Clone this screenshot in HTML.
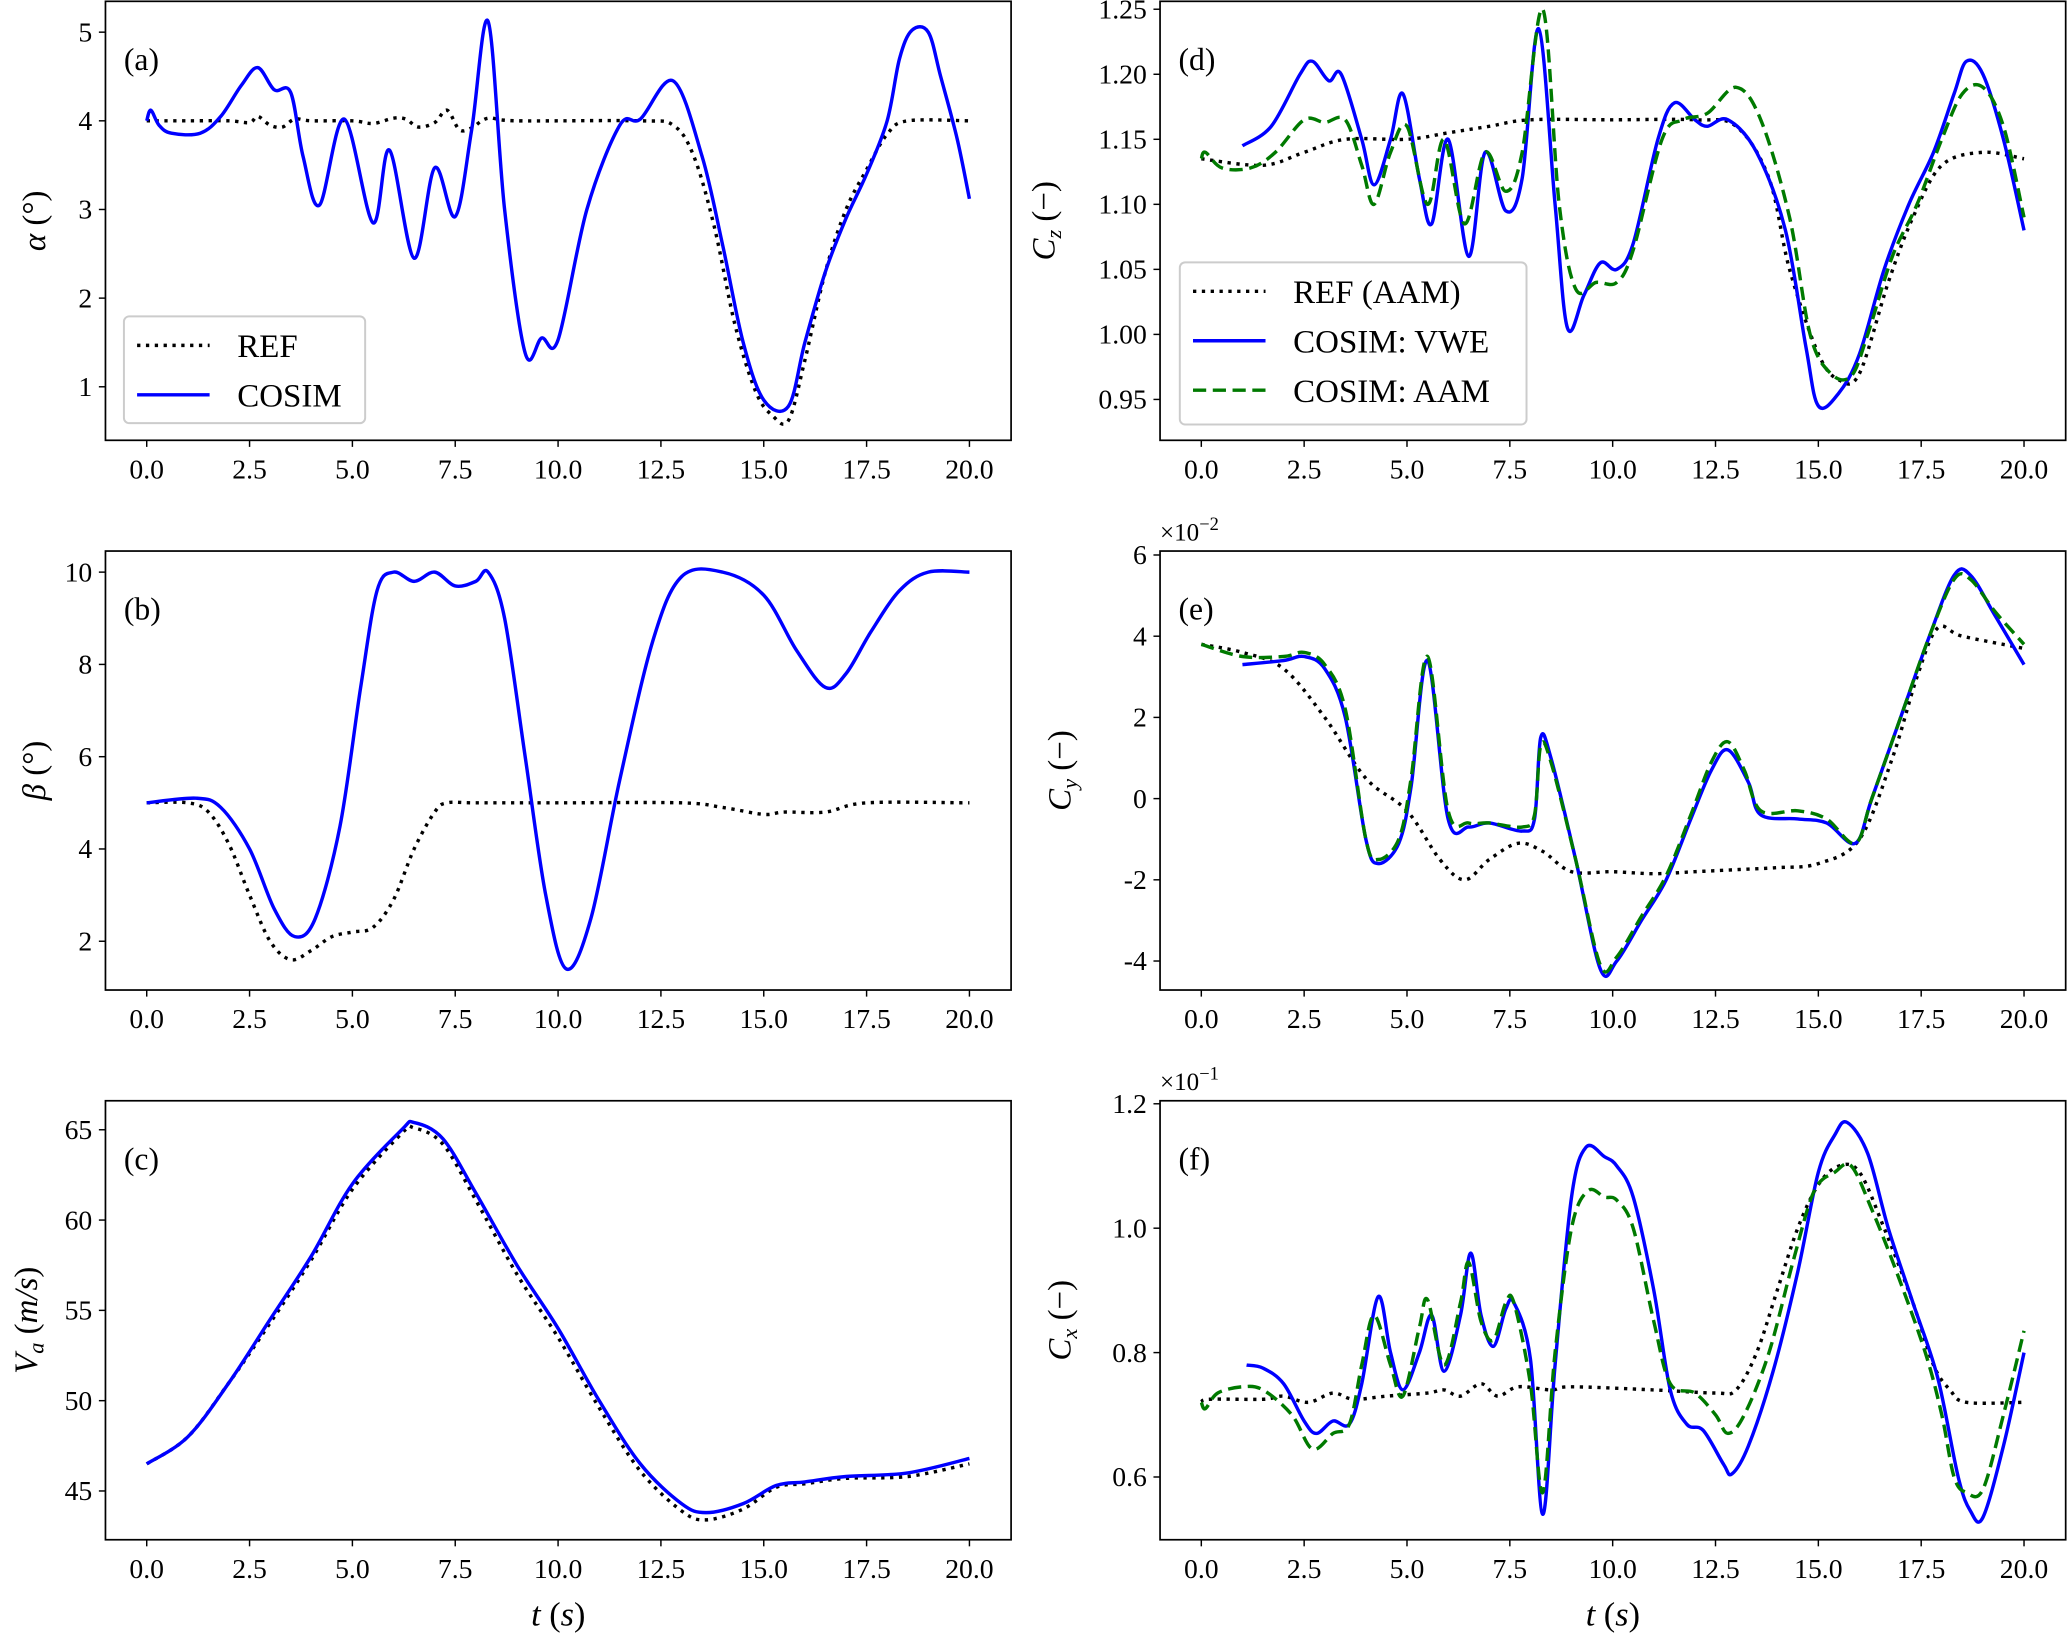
<!DOCTYPE html>
<html><head><meta charset="utf-8"><style>
html,body{margin:0;padding:0;background:#fff;}
svg{display:block;font-family:"Liberation Serif","DejaVu Serif",serif;}
</style></head><body>
<svg id="fig" xmlns="http://www.w3.org/2000/svg" width="2067" height="1634" viewBox="0 0 1568 1239.5" preserveAspectRatio="none"></svg>
<script>
// ---- Data (t in seconds) ----
const tTicks = [0,2.5,5,7.5,10,12.5,15,17.5,20];
const tTickLabels = ["0.0","2.5","5.0","7.5","10.0","12.5","15.0","17.5","20.0"];

const aRefT=[0,1,2,2.5,2.7,3,3.3,3.6,4,5,5.5,6,6.3,6.6,7,7.3,7.6,7.9,8.3,9,12,12.8,13.3,13.8,14.3,14.8,15.2,15.6,16,16.5,17,17.5,18,18.5,20];
const aRefV=[4,4,4,3.98,4.05,3.95,3.93,4.02,4,4,3.97,4.03,4.02,3.93,3.98,4.12,3.9,3.92,4.03,4,4,3.95,3.6,2.8,1.7,0.95,0.68,0.62,1.3,2.3,3.0,3.45,3.85,4,4];
const aCosT=[0,0.1,0.3,0.6,1.3,1.8,2.3,2.7,3.1,3.5,3.8,4.2,4.8,5.5,5.9,6.5,7.0,7.5,7.9,8.3,8.7,9.2,9.6,10,10.7,11.5,12,12.8,13.5,14,14.5,15,15.6,16,16.5,17,17.5,18,18.3,18.6,19,19.3,19.7,20];
const aCosV=[4.0,4.12,3.95,3.86,3.86,4.05,4.4,4.6,4.35,4.32,3.6,3.05,4.02,2.85,3.67,2.45,3.47,2.92,3.9,5.12,3.0,1.38,1.55,1.53,3.0,3.95,4.02,4.45,3.6,2.6,1.5,0.85,0.78,1.5,2.3,2.9,3.4,4.0,4.7,5.02,5.0,4.5,3.8,3.12];

const bRefT=[0,1,1.5,2,2.5,3,3.5,4,4.5,5,5.5,6,6.5,7,7.3,8,10,13,14,15,15.5,16.5,17.5,20];
const bRefV=[5,5,4.8,4.1,3.0,2.0,1.6,1.8,2.1,2.2,2.3,2.9,4.0,4.8,5.0,5.0,5.0,5.0,4.9,4.75,4.8,4.8,5.0,5.0];
const bCosT=[0,1.2,1.8,2.5,3.1,3.6,4.1,4.7,5.2,5.6,6,6.5,7,7.5,8.0,8.3,8.7,9.2,9.7,10.2,10.8,11.5,12.3,13,14,15,15.8,16.5,17,17.6,18.3,19,20];
const bCosV=[5,5.1,4.9,4,2.7,2.1,2.5,4.5,7.5,9.6,10,9.8,10,9.7,9.8,10,9,6,3,1.4,2.5,5.5,8.5,9.9,10,9.5,8.3,7.5,7.8,8.7,9.6,10,10];

const cT=[0,1,2,3,4,5,6.2,6.5,7.2,8,9,10,11,12,13,13.6,14.5,15.3,16,17,18.5,20];
const cCosV=[46.5,48,51,54.5,58,62,65,65.4,64.5,61.5,57.5,54,50,46.5,44.3,43.8,44.3,45.3,45.5,45.8,46,46.8];
const cRefV=[46.5,48,51,54.3,57.8,61.7,64.8,65.1,64.2,61.1,57,53.5,49.6,46.1,43.9,43.4,44,45.2,45.4,45.7,45.8,46.5];

const dRefT=[0,1.5,2.5,3.5,5,6,7,8,10,12,13,13.8,14.3,15,15.5,16,16.7,17.3,18,19,20];
const dRefV=[1.135,1.13,1.14,1.15,1.15,1.155,1.16,1.165,1.165,1.165,1.16,1.12,1.05,0.985,0.965,0.97,1.04,1.09,1.13,1.14,1.135];
const dVweT=[1,1.7,2.4,2.7,3.1,3.4,3.9,4.2,4.6,4.9,5.3,5.6,6.0,6.5,6.9,7.4,7.8,8.2,8.6,8.9,9.3,9.7,10.1,10.5,11.1,11.5,12,12.3,12.8,13.5,14.2,14.7,15,15.5,16,16.6,17.2,17.8,18.3,18.6,19,19.5,20];
const dVweV=[1.145,1.16,1.2,1.21,1.195,1.2,1.15,1.115,1.15,1.185,1.12,1.085,1.15,1.06,1.14,1.095,1.12,1.235,1.1,1.005,1.03,1.055,1.05,1.07,1.15,1.178,1.165,1.16,1.165,1.14,1.08,0.99,0.945,0.955,0.985,1.05,1.1,1.14,1.185,1.21,1.2,1.15,1.08];
const dAamT=[0,0.1,0.5,1.2,1.8,2.5,3,3.5,3.9,4.2,4.6,5.0,5.5,5.9,6.4,6.9,7.4,7.8,8.3,8.7,9.1,9.6,10.1,10.5,11.2,11.7,12.3,13,13.6,14.3,14.8,15.3,15.8,16.2,16.8,17.4,18,18.5,19,19.5,20];
const dAamV=[1.135,1.14,1.128,1.128,1.14,1.165,1.163,1.165,1.13,1.1,1.14,1.16,1.1,1.15,1.085,1.14,1.11,1.14,1.25,1.1,1.035,1.04,1.04,1.065,1.15,1.165,1.17,1.19,1.165,1.09,1.0,0.97,0.968,1.0,1.06,1.1,1.15,1.185,1.19,1.16,1.09];

const eRefT=[0,1,2,3,4,5,5.8,6.4,7,7.7,8.3,9,10,11,12,13,14,15,16,16.8,17.4,17.9,18.5,20];
const eRefV=[3.8,3.6,3.2,2,0.5,-0.3,-1.5,-2,-1.5,-1.1,-1.3,-1.8,-1.8,-1.85,-1.8,-1.75,-1.7,-1.6,-1.0,1.0,3,4.2,4.0,3.7];
const eT=[1,2,2.5,3,3.5,4,4.3,4.8,5.1,5.5,6,6.5,7,7.8,8.1,8.25,8.5,9.1,9.7,10.1,10.7,11.3,11.9,12.4,12.8,13.3,13.6,14.5,15.2,15.9,16.3,17,17.7,18.3,18.7,19.3,20];
const eVweV=[3.3,3.4,3.5,3.2,2,-1.0,-1.6,-1.1,0.3,3.4,-0.5,-0.7,-0.6,-0.8,-0.5,1.5,1.0,-1.5,-4.2,-4.0,-3,-2,-0.5,0.7,1.2,0.4,-0.4,-0.5,-0.6,-1.1,0,2,4,5.5,5.5,4.5,3.3];
const eAamT=[0,1,2,2.5,3,3.5,4,4.3,4.8,5.1,5.5,6,6.5,7,7.8,8.1,8.25,8.5,9.1,9.7,10.1,10.7,11.3,11.9,12.4,12.8,13.2,13.6,14.5,15.2,15.9,16.3,17,17.7,18.3,18.7,19.3,20];
const eAamV=[3.8,3.5,3.5,3.6,3.3,2.2,-1.0,-1.5,-1.0,0.5,3.5,-0.3,-0.6,-0.6,-0.7,-0.4,1.3,0.9,-1.5,-4.1,-3.9,-2.9,-1.9,-0.4,0.9,1.4,0.7,-0.3,-0.3,-0.5,-1.1,0,2,4,5.4,5.4,4.6,3.8];

const fRefT=[0,0.2,1.5,2,2.6,3.2,3.7,4.5,5.5,5.9,6.3,6.8,7.2,7.7,8.5,9,11,12.5,13,13.5,14,14.5,15,15.5,16,16.6,17.3,17.8,18.2,18.6,20];
const fRefV=[0.72,0.725,0.725,0.73,0.72,0.735,0.725,0.73,0.735,0.74,0.73,0.75,0.73,0.745,0.74,0.745,0.74,0.735,0.74,0.8,0.9,1.0,1.07,1.1,1.09,1.0,0.88,0.78,0.74,0.72,0.72];
const fVweT=[1.1,1.5,2,2.5,2.8,3.2,3.6,3.9,4.3,4.6,4.9,5.3,5.6,5.9,6.3,6.55,6.8,7.1,7.4,7.6,8.0,8.3,8.6,9.0,9.35,9.8,10.1,10.5,11,11.4,11.8,12.2,12.7,12.9,13.3,13.9,14.5,15.0,15.4,15.7,16.2,16.7,17.3,17.9,18.4,18.7,19,19.5,20];
const fVweV=[0.78,0.775,0.75,0.69,0.67,0.69,0.685,0.75,0.89,0.8,0.74,0.8,0.86,0.77,0.86,0.96,0.86,0.81,0.87,0.88,0.79,0.54,0.78,1.05,1.13,1.115,1.1,1.05,0.9,0.74,0.685,0.675,0.62,0.605,0.65,0.77,0.93,1.09,1.15,1.17,1.12,1.0,0.88,0.76,0.6,0.545,0.535,0.65,0.8];
const fAamT=[0,0.1,0.4,1,1.5,2.2,2.7,3.2,3.6,3.9,4.2,4.6,4.9,5.3,5.5,5.9,6.3,6.5,6.8,7.1,7.4,7.6,8.0,8.3,8.6,9.0,9.4,9.8,10.1,10.5,11,11.4,12,12.5,12.8,13.2,13.8,14.4,14.9,15.4,15.8,16.3,16.9,17.6,18.0,18.3,18.6,19,19.5,20];
const fAamV=[0.72,0.71,0.735,0.745,0.74,0.7,0.645,0.67,0.685,0.78,0.86,0.78,0.73,0.84,0.885,0.78,0.88,0.945,0.85,0.82,0.88,0.88,0.75,0.575,0.8,1.0,1.06,1.05,1.045,1.0,0.85,0.75,0.735,0.7,0.67,0.7,0.8,0.95,1.06,1.09,1.1,1.03,0.93,0.8,0.7,0.6,0.575,0.58,0.7,0.835];

const aTicks=[1,2,3,4,5], bTicks=[2,4,6,8,10], cTicks=[45,50,55,60,65];
const dTicks=[0.95,1.00,1.05,1.10,1.15,1.20,1.25], eTicks=[-4,-2,0,2,4,6], fTicks=[0.6,0.8,1.0,1.2];

// ---- Rendering ----
const NS="http://www.w3.org/2000/svg";
const svg=document.getElementById('fig');
function el(tag,attrs,parent){const e=document.createElementNS(NS,tag);for(const k in attrs)e.setAttribute(k,attrs[k]);(parent||svg).appendChild(e);return e;}
function txt(s,attrs,parent){const e=el('text',attrs,parent);e.textContent=s;return e;}
function smooth(pts){let d=`M${pts[0][0].toFixed(2)},${pts[0][1].toFixed(2)}`;
 for(let i=0;i<pts.length-1;i++){const p0=pts[Math.max(i-1,0)],p1=pts[i],p2=pts[i+1],p3=pts[Math.min(i+2,pts.length-1)];
  const c1x=p1[0]+(p2[0]-p0[0])/6,c1y=p1[1]+(p2[1]-p0[1])/6,c2x=p2[0]-(p3[0]-p1[0])/6,c2y=p2[1]-(p3[1]-p1[1])/6;
  d+=` C${c1x.toFixed(2)},${c1y.toFixed(2)} ${c2x.toFixed(2)},${c2y.toFixed(2)} ${p2[0].toFixed(2)},${p2[1].toFixed(2)}`;}
 return d;}

const styles={ref:{stroke:'#000',dash:'2.5,4.2',w:2.6},vwe:{stroke:'#0000ff',dash:null,w:2.6},aam:{stroke:'#007a00',dash:'10,5',w:2.6}};

function panel(cfg){
 const g=el('g',{});
 
 
 const {x0,x1,y0,y1}=cfg;
 const tx0=x0+31.3, tx1=x1-31.6;
 const X=t=>tx0+(t/20)*(tx1-tx0);
 const Y=v=>cfg.pyA+(v-cfg.vA)*(cfg.pyB-cfg.pyA)/(cfg.vB-cfg.vA);
 const clip='clip-'+cfg.name;
 const cp=el('clipPath',{id:clip},g);el('rect',{x:x0,y:y0,width:x1-x0,height:y1-y0},cp);
 // series
 const sg=el('g',{'clip-path':`url(#${clip})`},g);
 cfg.series.forEach(s=>{
  const st=styles[s.style];
  const pts=s.t.map((t,i)=>[X(t),Y(s.v[i])]);
  const p=el('path',{d:smooth(pts),fill:'none',stroke:st.stroke,'stroke-width':st.w,'stroke-linejoin':'round'},sg);
  if(st.dash)p.setAttribute('stroke-dasharray',st.dash);
  
  
 });
 // frame
 const fr=el('rect',{x:x0,y:y0,width:x1-x0,height:y1-y0,fill:'none',stroke:'#000','stroke-width':1.3},g);
 
 
 // x ticks
 tTicks.forEach((t,i)=>{const x=X(t);el('line',{x1:x,x2:x,y1:y1,y2:y1+5,stroke:'#000','stroke-width':1.1},g);
  const l=txt(tTickLabels[i],{x:x,y:y1+29,'font-size':21,'text-anchor':'middle'},g);
  
  });
 // y ticks
 cfg.yTicks.forEach(v=>{const y=Y(v);el('line',{x1:x0-5,x2:x0,y1:y,y2:y,stroke:'#000','stroke-width':1.1},g);
  const l=txt(cfg.fmt(v),{x:x0-10,y:y+7,'font-size':21,'text-anchor':'end'},g);
  
  });
 // panel letter
 const pl=txt(cfg.letter,{x:x0+14,y:y0+52,'font-size':24},g);
 
 
 // y label
 const yl=el('text',{transform:`translate(${cfg.ylx},${(y0+y1)/2}) rotate(-90)`,'font-size':25,'text-anchor':'middle'},g);
 yl.innerHTML=cfg.ylabel;
 
 
 if(cfg.mult){const m=el('text',{x:x0,y:y0-8,'font-size':19},g);m.innerHTML=cfg.mult;
  
  }
 if(cfg.xlabel){const xl=el('text',{x:(x0+x1)/2,y:y1+65,'font-size':26,'text-anchor':'middle'},g);
  xl.innerHTML='<tspan font-style="italic">t</tspan> (<tspan font-style="italic">s</tspan>)';
  
  }
 return g;
}
const f1=v=>String(v), f2=v=>v.toFixed(2), f1d=v=>v.toFixed(1);
const L={x0:80,x1:767}, R={x0:880,x1:1567};
const r1={y0:1,y1:334}, r2={y0:418,y1:751}, r3={y0:835,y1:1168};

panel({name:'panel-a-alpha',...L,...r1,letter:'(a)',pyA:24.4,vA:5,pyB:293.4,vB:1,yTicks:aTicks,fmt:f1,ylx:34,
 ylabel:'<tspan font-style="italic">α</tspan> (°)',
 series:[{name:'alpha-ref-line',style:'ref',t:aRefT,v:aRefV},{name:'alpha-cosim-line',style:'vwe',t:aCosT,v:aCosV}]});
panel({name:'panel-b-beta',...L,...r2,letter:'(b)',pyA:434,vA:10,pyB:714,vB:2,yTicks:bTicks,fmt:f1,ylx:34,
 ylabel:'<tspan font-style="italic">β</tspan> (°)',
 series:[{name:'beta-ref-line',style:'ref',t:bRefT,v:bRefV},{name:'beta-cosim-line',style:'vwe',t:bCosT,v:bCosV}]});
panel({name:'panel-c-airspeed',...L,...r3,letter:'(c)',pyA:857,vA:65,pyB:1131,vB:45,yTicks:cTicks,fmt:f1,ylx:28,xlabel:true,
 ylabel:'<tspan font-style="italic">V<tspan font-size="17" dy="5">a</tspan></tspan><tspan dy="-5"> (</tspan><tspan font-style="italic">m/s</tspan>)',
 series:[{name:'va-ref-line',style:'ref',t:cT,v:cRefV},{name:'va-cosim-line',style:'vwe',t:cT,v:cCosV}]});
panel({name:'panel-d-cz',...R,...r1,letter:'(d)',pyA:7,vA:1.25,pyB:303,vB:0.95,yTicks:dTicks,fmt:f2,ylx:800,
 ylabel:'<tspan font-style="italic">C<tspan font-size="17" dy="5">z</tspan></tspan><tspan dy="-5"> (−)</tspan>',
 series:[{name:'cz-ref-line',style:'ref',t:dRefT,v:dRefV},{name:'cz-vwe-line',style:'vwe',t:dVweT,v:dVweV},{name:'cz-aam-line',style:'aam',t:dAamT,v:dAamV}]});
panel({name:'panel-e-cy',...R,...r2,letter:'(e)',pyA:421,vA:6,pyB:729,vB:-4,yTicks:eTicks,fmt:f1,ylx:812,
 mult:'×10<tspan font-size="14" dy="-8">−2</tspan>',
 ylabel:'<tspan font-style="italic">C<tspan font-size="17" dy="5">y</tspan></tspan><tspan dy="-5"> (−)</tspan>',
 series:[{name:'cy-ref-line',style:'ref',t:eRefT,v:eRefV},{name:'cy-vwe-line',style:'vwe',t:eT,v:eVweV},{name:'cy-aam-line',style:'aam',t:eAamT,v:eAamV}]});
panel({name:'panel-f-cx',...R,...r3,letter:'(f)',pyA:837.3,vA:1.2,pyB:1120.4,vB:0.6,yTicks:fTicks,fmt:f1d,ylx:812,xlabel:true,
 mult:'×10<tspan font-size="14" dy="-8">−1</tspan>',
 ylabel:'<tspan font-style="italic">C<tspan font-size="17" dy="5">x</tspan></tspan><tspan dy="-5"> (−)</tspan>',
 series:[{name:'cx-ref-line',style:'ref',t:fRefT,v:fRefV},{name:'cx-vwe-line',style:'vwe',t:fVweT,v:fVweV},{name:'cx-aam-line',style:'aam',t:fAamT,v:fAamV}]});

// legends
function legend(name,x,y,w,h,entries){
 const g=el('g',{});
 
 
 el('rect',{x:x,y:y,width:w,height:h,rx:4,fill:'#fff','fill-opacity':0.85,stroke:'#ccc','stroke-width':1.5},g);
 entries.forEach((e,i)=>{const cy=y+22+i*37.5;const st=styles[e.style];
  const ln=el('line',{x1:x+10,x2:x+65,y1:cy,y2:cy,stroke:st.stroke,'stroke-width':st.w},g);
  if(st.dash)ln.setAttribute('stroke-dasharray',st.dash);
  const t=txt(e.label,{x:x+86,y:cy+9,'font-size':25},g);
  
  });
}
legend('legend-a',94,240,183,81,[{style:'ref',label:'REF'},{style:'vwe',label:'COSIM'}]);
legend('legend-d',895,199,263,123,[{style:'ref',label:'REF (AAM)'},{style:'vwe',label:'COSIM: VWE'},{style:'aam',label:'COSIM: AAM'}]);
</script>
</body></html>
